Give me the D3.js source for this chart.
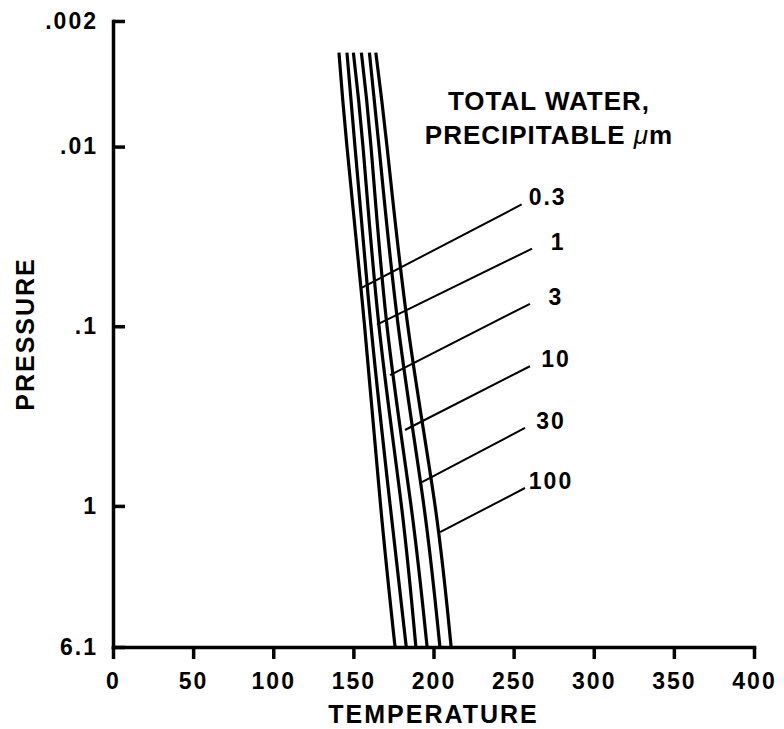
<!DOCTYPE html>
<html>
<head>
<meta charset="utf-8">
<script src="https://cdn.jsdelivr.net/npm/d3@7"></script>
<style>
  body { margin: 0; background: #fff; }
  svg text { font-family: "Liberation Sans", Arial, sans-serif; font-weight: bold; fill: #000; }
</style>
</head>
<body>
<div id="chart"></div>
<script>
// Pressure levels where the curves were read (top to bottom)
let pressures = [0.003, 0.01, 0.1, 1, 6.1];

// Temperature of each curve at those pressures, one array per water amount
let waterLabels = ['0.3', '1', '3', '10', '30', '100'];
let temps_0_3 = [141, 146, 157, 167, 176];
let temps_1 = [146, 151, 161, 173, 183];
let temps_3 = [150, 156, 166, 180, 189];
let temps_10 = [155, 161, 171, 186, 196];
let temps_30 = [160, 166, 178, 194, 204];
let temps_100 = [164, 171, 184, 201, 211];

// Leader lines: [temperature, pressure] of the end on the curve and the end near the label
let leaderInner = [[155.4, 0.061], [164.7, 0.098], [172.9, 0.187], [182.2, 0.378], [192.8, 0.737], [204.1, 1.40]];
let leaderOuter = [[255, 0.021], [261.5, 0.037], [260.2, 0.075], [260.2, 0.167], [257.1, 0.368], [257.1, 0.795]];

// Axis ticks
let xTicks = [0, 50, 100, 150, 200, 250, 300, 350, 400];
let yTicks = [0.002, 0.01, 0.1, 1, 6.1];
let yTickLabels = ['.002', '.01', '.1', '1', '6.1'];

let series = [temps_0_3, temps_1, temps_3, temps_10, temps_30, temps_100];

// Set dimensions and margins
let margin = {top: 21, right: 30, bottom: 82, left: 113},
    width = 784 - margin.left - margin.right,
    height = 729 - margin.top - margin.bottom;

// Set ranges
let x = d3.scaleLinear().domain([0, 400]).range([0, width]);
let y = d3.scaleLog().domain([6.1, 0.002]).range([height, 0]);

let svg = d3.select('#chart')
    .append('svg')
    .attr('width', width + margin.left + margin.right)
    .attr('height', height + margin.top + margin.bottom)
    .append('g')
    .attr('transform', 'translate(' + margin.left + ',' + margin.top + ')');

// Curves
let line = d3.line()
    .x(function (d) { return x(d[0]); })
    .y(function (d) { return y(d[1]); })
    .curve(d3.curveNatural);

series.forEach(function (temps) {
    let pts = temps.map(function (t, i) { return [t, pressures[i]]; });
    svg.append('path')
        .datum(pts)
        .attr('d', line)
        .attr('fill', 'none')
        .attr('stroke', '#000')
        .attr('stroke-width', 3.2);
});

// Leader lines and labels
waterLabels.forEach(function (lab, i) {
    let a = leaderInner[i], b = leaderOuter[i];
    svg.append('line')
        .attr('x1', x(a[0])).attr('y1', y(a[1]))
        .attr('x2', x(b[0])).attr('y2', y(b[1]))
        .attr('stroke', '#000')
        .attr('stroke-width', 2);
    svg.append('text')
        .attr('x', x(b[0]) + 26)
        .attr('y', y(b[1]) + 1)
        .attr('text-anchor', 'middle')
        .style('font-size', '23px')
        .style('letter-spacing', '2px')
        .text(lab);
});

// Legend title
let title = svg.append('text')
    .attr('text-anchor', 'middle')
    .style('font-size', '26px')
    .style('letter-spacing', '1px');
title.append('tspan').attr('x', 436).attr('y', 89).text('TOTAL WATER,');
let t2 = title.append('tspan').attr('x', 436).attr('y', 123).text('PRECIPITABLE ');
t2.append('tspan').style('font-style', 'italic').style('font-weight', 'normal').text('\u03bc');
t2.append('tspan').text('m');

// X axis
let xAxis = svg.append('g')
    .attr('transform', 'translate(0,' + height + ')')
    .call(d3.axisBottom(x).tickValues(xTicks).tickFormat(d3.format('d'))
        .tickSizeInner(12).tickSizeOuter(0).tickPadding(14));

// Y axis
let yAxis = svg.append('g')
    .call(d3.axisLeft(y).tickValues(yTicks)
        .tickFormat(function (d, i) { return yTickLabels[i]; })
        .tickSizeInner(-12).tickSizeOuter(0).tickPadding(15));

[xAxis, yAxis].forEach(function (g) {
    g.select('.domain').attr('stroke-width', 3.5).attr('stroke-linecap', 'square');
    g.selectAll('.tick line').attr('stroke-width', 3.5);
    g.selectAll('.tick text')
        .attr('fill', '#000')
        .style('font-size', '23px')
        .style('letter-spacing', '2px')
        .style('font-family', '"Liberation Sans", Arial, sans-serif')
        .style('font-weight', 'bold');
});

// Axis titles
svg.append('text')
    .attr('x', width / 2)
    .attr('y', height + 76)
    .attr('text-anchor', 'middle')
    .style('font-size', '25px')
    .style('letter-spacing', '2px')
    .text('TEMPERATURE');

svg.append('text')
    .attr('transform', 'translate(' + (-79) + ',' + (height / 2) + ') rotate(-90)')
    .attr('text-anchor', 'middle')
    .style('font-size', '25px')
    .style('letter-spacing', '2px')
    .text('PRESSURE');
</script>
</body>
</html>
